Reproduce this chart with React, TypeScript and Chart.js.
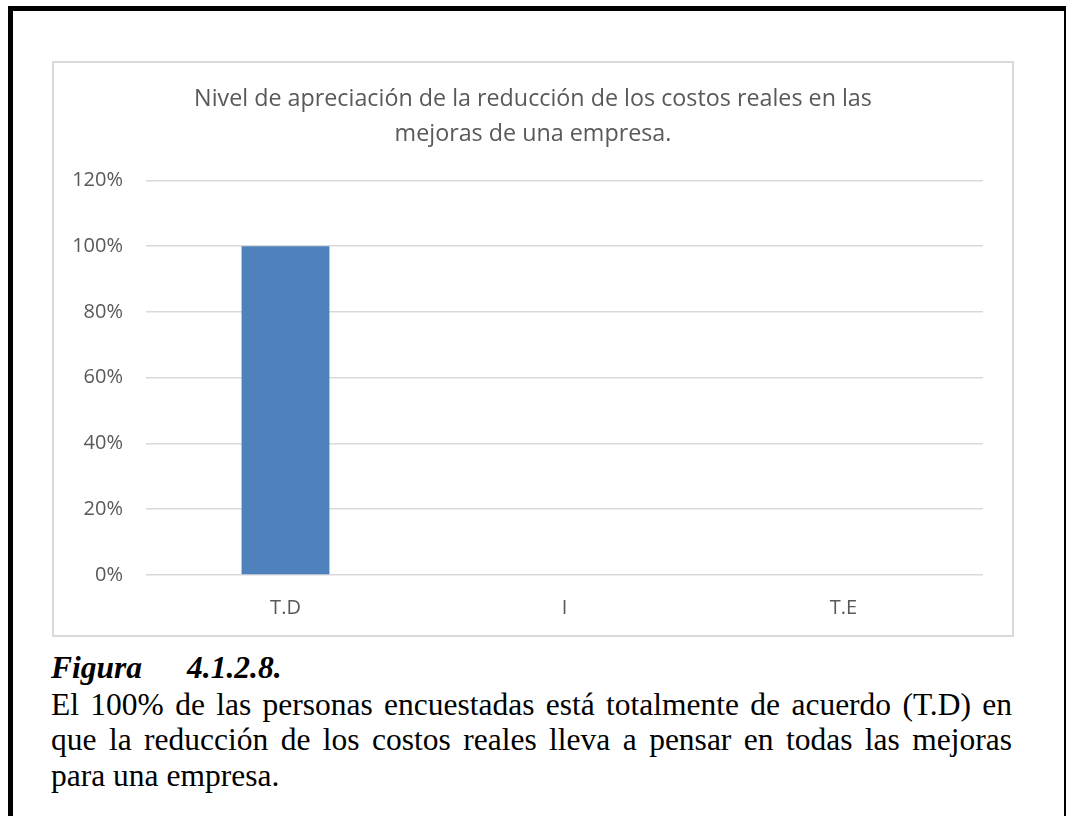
import React, { useEffect, useRef } from "react";
import { Chart, registerables } from "chart.js";

Chart.register(...registerables);

const titleLines = [
  "Nivel de apreciación de la reducción de los costos reales en las",
  "mejoras de una empresa.",
];
const categories = ["T.D", "I", "T.E"];
const percentValues = [100, 0, 0];
const yTicks = [0, 20, 40, 60, 80, 100, 120];

const figureLabel = "Figura";
const figureNumber = "4.1.2.8.";
const captionText =
  "El 100% de las personas encuestadas está totalmente de acuerdo (T.D) en que la reducción de los costos reales lleva a pensar en todas las mejoras para una empresa.";

const FONT = "'Open Sans', sans-serif";
const GRAY = "#595959";

function BarChart() {
  const ref = useRef<HTMLCanvasElement | null>(null);
  useEffect(() => {
    if (!ref.current) return;
    const chart = new Chart(ref.current, {
      type: "bar",
      data: {
        labels: categories,
        datasets: [
          {
            data: percentValues,
            backgroundColor: "#4f81bd",
            borderWidth: 0,
            barPercentage: 0.315,
            categoryPercentage: 1,
          },
        ],
      },
      options: {
        animation: false,
        responsive: false,
        maintainAspectRatio: false,
        layout: { padding: 0 },
        plugins: {
          legend: { display: false },
          tooltip: { enabled: false },
          title: {
            display: true,
            text: titleLines,
            color: GRAY,
            font: { family: FONT, size: 23.3, weight: "normal" as any, lineHeight: 1.51 },
            padding: { top: 19, bottom: 28 },
          },
        },
        scales: {
          x: {
            grid: { display: false },
            border: { display: false },
            ticks: {
              color: GRAY,
              font: { family: FONT, size: 20 },
              padding: 13,
            },
            afterFit: (s: any) => {
              s.height = 60;
            },
          },
          y: {
            min: 0,
            max: 120,
            afterBuildTicks: (s: any) => {
              s.ticks = yTicks.map((v) => ({ value: v }));
            },
            grid: { color: "#d9d9d9", lineWidth: 1.5, drawTicks: false },
            border: { display: false },
            ticks: {
              color: GRAY,
              font: { family: FONT, size: 20 },
              padding: 23,
              callback: (v: any) => v + "%",
            },
            afterFit: (s: any) => {
              s.width = 92;
            },
          },
          rightSpace: {
            type: "linear",
            position: "right",
            display: true,
            grid: { display: false },
            border: { display: false },
            ticks: { display: false },
            afterFit: (s: any) => {
              s.width = 29;
            },
          },
        },
      },
    });
    return () => chart.destroy();
  }, []);
  return <canvas ref={ref} width={958} height={572} style={{ display: "block" }} />;
}

export default function App() {
  return (
    <div style={{ position: "absolute", left: 0, top: 0, width: 1066, height: 816, overflow: "hidden", background: "#fff" }}>
      <div
        style={{
          position: "absolute",
          left: 8,
          top: 6,
          width: 1051,
          height: 830,
          borderLeft: "5px solid #000",
          borderTop: "5px solid #000",
          borderRight: "2px solid #000",
        }}
      />
      <div
        style={{
          position: "absolute",
          left: 52,
          top: 61,
          width: 958,
          height: 572,
          border: "2px solid #d9d9d9",
        }}
      >
        <BarChart />
      </div>
      <div
        style={{
          position: "absolute",
          left: 51,
          top: 650,
          width: 961,
          fontFamily: "'Liberation Serif', 'Times New Roman', serif",
          fontSize: 31.5,
          lineHeight: "35.5px",
          color: "#000",
        }}
      >
        <div style={{ fontWeight: "bold", fontStyle: "italic", whiteSpace: "nowrap", lineHeight: "36.5px" }}>
          <span style={{ display: "inline-block", width: 136 }}>{figureLabel}</span>
          <span>{figureNumber}</span>
        </div>
        <div style={{ textAlign: "justify" }}>{captionText}</div>
      </div>
    </div>
  );
}
